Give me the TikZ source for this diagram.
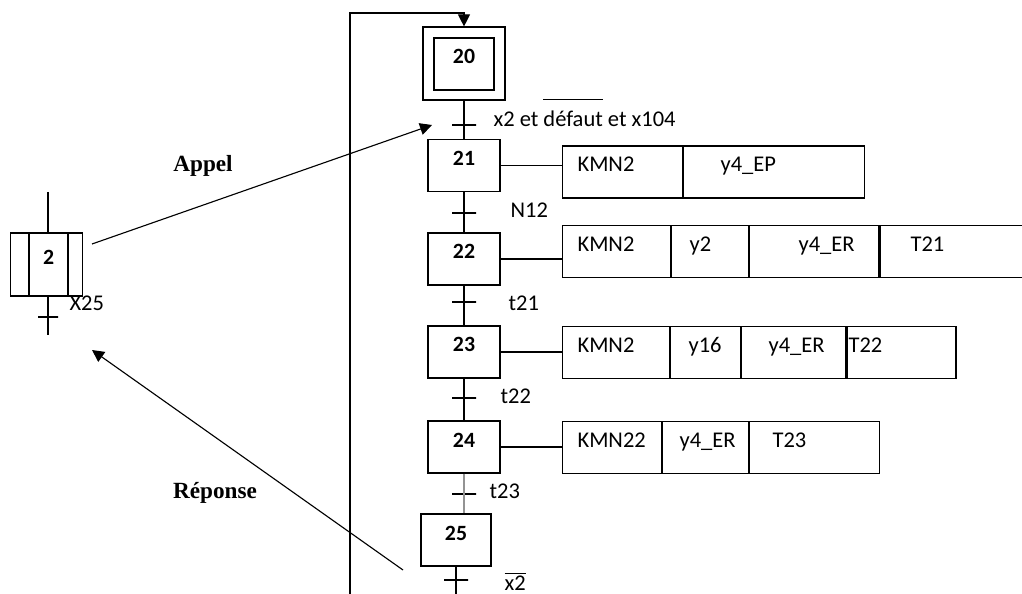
\documentclass[tikz,border=0pt]{standalone}
\usepackage{fontspec}
\setmainfont{Carlito}
\newfontfamily\captfont{Liberation Serif}
\usetikzlibrary{arrows.meta}

\begin{document}
\begin{tikzpicture}[>={Triangle[length=3mm,width=3mm]}, line width=0.8pt,
    font=\fontsize{16}{19}\selectfont,
    etape/.style={draw, minimum width=1.8cm, minimum height=1.3cm, inner sep=0pt,
                  text height=3.3mm, text depth=3.3mm,
                  font=\fontsize{15.5}{18}\selectfont\bfseries},
    mcell/.style={draw, minimum height=1.575cm, inner sep=0pt, anchor=west,
                  text height=3.3mm, text depth=3.3mm,
                  font=\fontsize{15.5}{18}\selectfont\bfseries},
    trans/.style={draw, minimum width=6mm, minimum height=0pt, inner sep=0pt},
    recep/.style={anchor=base west, inner xsep=0pt},
    acell/.style={draw, minimum height=1.3cm, inner sep=0pt, anchor=west},
    atext/.style={anchor=base west, inner xsep=0pt},
    capt/.style={anchor=base, font=\fontsize{16.5}{19}\selectfont\captfont\bfseries}]

  \useasboundingbox (0,0) rectangle (25.55,-14.85);

  % ---- main sequence, steps 20 to 25
  \node[draw, minimum width=2.05cm, minimum height=1.825cm] (s20) at (11.6,-1.5875) {};
  \node[etape, minimum width=1.5cm] (s20i) at (11.6,-1.6) {20};
  \node[etape] (s21) at (11.6,-4.1375) {21};
  \node[etape] (s22) at (11.6,-6.475) {22};
  \node[etape] (s23) at (11.6,-8.8) {23};
  \node[etape] (s24) at (11.6,-11.175) {24};
  \node[etape, minimum width=1.75cm] (s25) at (11.4,-13.5) {25};

  % ---- transitions
  \node[trans] (tr1) at (11.6,-3.125) {};
  \node[trans] (tr2) at (11.6,-5.325) {};
  \node[trans] (tr3) at (11.6,-7.55) {};
  \node[trans] (tr4) at (11.6,-9.95) {};
  \node[trans] (tr5) at (11.6,-12.35) {};
  \node[trans] (tr6) at (11.4,-14.5) {};

  \node[recep] (r1) at (12.325,-3.175)
    {x2 et $\overline{\mbox{défaut}\rule{0pt}{18pt}}$ et x104};
  \node[recep] (r2) at (12.75,-5.45) {N12};
  \node[recep] (r3) at (12.7,-7.775) {t21};
  \node[recep] (r4) at (12.5,-10.1) {t22};
  \node[recep] (r5) at (12.225,-12.45) {t23};
  \node[recep] (r6) at (12.6,-14.75) {$\overline{\mbox{x2}}$};

  \draw (s20.south) -- (s21.north);
  \draw (s21.south) -- (s22.north);
  \draw (s22.south) -- (s23.north);
  \draw (s23.south) -- (s24.north);
  \draw[draw=gray!85, line width=1.5pt] (s24.south) -- (s24.south |- s25.north);
  \coordinate (endB) at (11.4,-14.85);
  \draw (s25.south) -- (endB);

  % ---- loop back to the initial step
  \coordinate (loopB) at (8.75,-14.85);
  \coordinate (loopT) at (8.75,-0.325);
  \draw[->] (loopB) -- (loopT) -- (loopT -| s20.north) -- (s20.north);

  % ---- actions
  \node[acell, minimum width=3cm] (a21a) at (14.05,-4.3) {};
  \node[acell, minimum width=4.525cm] (a21b) at (a21a.east) {};
  \node[atext] (x21a) at (14.425,-4.3) {KMN2};
  \node[atext] (x21b) at (18.0,-4.3) {y4\_EP};

  \node[acell, minimum width=2.7cm] (a22a) at (14.05,-6.2875) {};
  \node[acell, minimum width=1.925cm] (a22b) at (a22a.east) {};
  \node[acell, minimum width=3.225cm] (a22c) at (a22b.east) {};
  \node[acell, minimum width=4cm] (a22d) at (a22c.east) {};
  \node[atext] (x22a) at (14.425,-6.3) {KMN2};
  \node[atext] (x22b) at (17.225,-6.3) {y2};
  \node[atext] (x22c) at (19.95,-6.3) {y4\_ER};
  \node[atext] (x22d) at (22.75,-6.3) {T21};

  \node[acell, minimum width=2.675cm] (a23a) at (14.05,-8.8125) {};
  \node[acell, minimum width=1.75cm] (a23b) at (a23a.east) {};
  \node[acell, minimum width=2.6cm] (a23c) at (a23b.east) {};
  \node[acell, minimum width=2.725cm] (a23d) at (a23c.east) {};
  \node[atext] (x23a) at (14.425,-8.825) {KMN2};
  \node[atext] (x23b) at (17.2,-8.825) {y16};
  \node[atext] (x23c) at (19.2,-8.825) {y4\_ER};
  \node[atext] (x23d) at (21.2,-8.825) {T22};

  \node[acell, minimum width=2.475cm] (a24a) at (14.05,-11.1875) {};
  \node[acell, minimum width=2.15cm] (a24b) at (a24a.east) {};
  \node[acell, minimum width=3.25cm] (a24c) at (a24b.east) {};
  \node[atext] (x24a) at (14.425,-11.175) {KMN22};
  \node[atext] (x24b) at (16.975,-11.175) {y4\_ER};
  \node[atext] (x24c) at (19.3,-11.175) {T23};

  \draw (s21.east) -- (s21.east -| a21a.west);
  \draw (s22.east) -- (s22.east -| a22a.west);
  \draw (s23.east) -- (s23.east -| a23a.west);
  \draw (s24.east) -- (s24.east -| a24a.west);

  % ---- macro step 2
  \node[mcell, minimum width=0.45cm] (m2l) at (0.25,-6.6125) {};
  \node[mcell, minimum width=0.95cm] (m2) at (m2l.east) {2};
  \node[mcell, minimum width=0.35cm] (m2r) at (m2.east) {};
  \coordinate (m2top) at (1.2,-4.8);
  \coordinate (m2bot) at (1.2,-8.375);
  \draw (m2top) -- (m2top |- m2.north);
  \draw (m2bot |- m2.south) -- (m2bot);
  \node[trans, minimum width=5mm] (tm2) at (1.2,-7.925) {};
  \node[recep] (rm2) at (1.725,-7.775) {X25};

  % ---- call and answer
  \coordinate (appelA) at (2.3,-6.1);
  \coordinate (appelB) at (10.8,-3.125);
  \draw[->] (appelA) -- (appelB);
  \node[capt] (appel) at (5.075,-4.3) {Appel};

  \coordinate (repA) at (10.075,-14.25);
  \coordinate (repB) at (2.3,-8.75);
  \draw[->] (repA) -- (repB);
  \node[capt] (reponse) at (5.375,-12.45) {Réponse};
\end{tikzpicture}
\end{document}
